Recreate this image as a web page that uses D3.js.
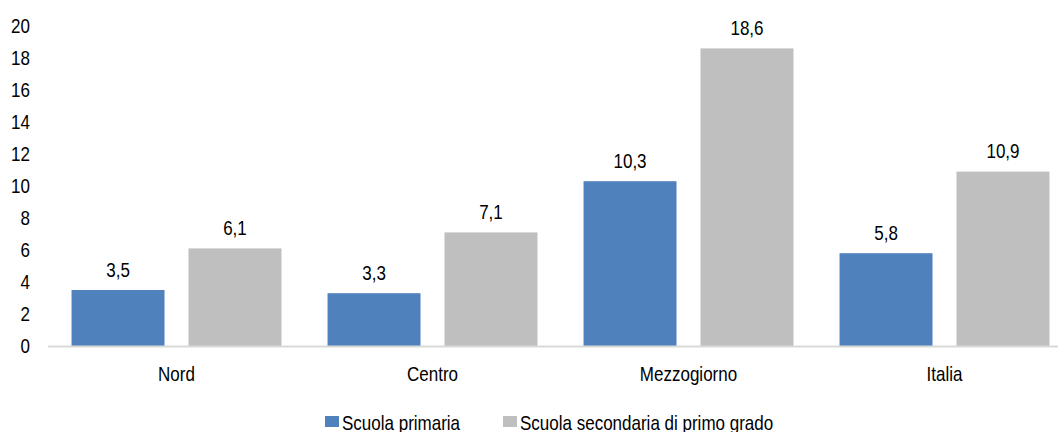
<!DOCTYPE html>
<html><head><meta charset="utf-8">
<script src="https://cdn.jsdelivr.net/npm/d3@7"></script>
<style>body{margin:0;background:#fff}svg{display:block}text{font-family:"Liberation Sans",Arial,sans-serif;fill:#000}</style>
</head><body><svg id="c" width="1058" height="432"></svg>
<script>
const categories = ["Nord","Centro","Mezzogiorno","Italia"];
const seriesNames = ["Scuola primaria","Scuola secondaria di primo grado"];
const primaria = [3.5,3.3,10.3,5.8];
const secondaria = [6.1,7.1,18.6,10.9];
const yTicks = [0,2,4,6,8,10,12,14,16,18,20];
const colors = ["#4F81BD","#BFBFBF"];

const FS = "21px", SX = 0.81;
const svg = d3.select("#c");
const fmt = v => String(v.toFixed(1)).replace(".", ",");
const y = d3.scaleLinear().domain([0,20]).range([346,26]);
const x0 = d3.scaleBand().domain(categories).range([48.5,1072.5]);
const x1 = d3.scaleBand().domain(seriesNames).range([0,x0.bandwidth()]).paddingInner(0.205).paddingOuter(0.197);

function narrowText(sel, x, yy, anchor, str){
  return sel.append("text").attr("transform",`translate(${x},${yy}) scale(${SX},1)`)
    .attr("text-anchor",anchor).style("font-size",FS).text(str);
}

// y axis labels
const yAxis = d3.axisLeft(y).tickValues(yTicks).tickSize(0).tickPadding(0).tickFormat(d=>d);
const gy = svg.append("g").attr("transform","translate(30,0)").call(yAxis);
gy.select(".domain").remove();
gy.selectAll("text").style("font-size",FS).attr("font-family",null).attr("transform",`scale(${SX},1)`);

const data = categories.map((c,i)=>({c, vals:[primaria[i],secondaria[i]]}));
const g = svg.append("g");
data.forEach(d=>{
  d.vals.forEach((v,j)=>{
    const xs = x0(d.c)+x1(seriesNames[j]);
    g.append("rect").attr("x",xs).attr("y",y(v)).attr("width",x1.bandwidth()).attr("height",y(0)-y(v)).attr("fill",colors[j]);
    narrowText(g, xs+x1.bandwidth()/2, y(v)-13.5, "middle", fmt(v));
  });
});

// x axis
const xAxis = d3.axisBottom(x0).tickSize(0).tickPadding(0);
const gx = svg.append("g").attr("transform","translate(0,346)").call(xAxis);
gx.select(".domain").remove();
gx.selectAll("text").attr("dy",null).attr("y",0).style("font-size",FS).attr("font-family",null).attr("transform",`translate(0,35) scale(${SX},1)`);
svg.append("line").attr("x1",48).attr("x2",1058).attr("y1",346.5).attr("y2",346.5).attr("stroke","#D9D9D9").attr("stroke-width",2);

// legend
const legX = [325,503];
seriesNames.forEach((s,i)=>{
  svg.append("rect").attr("x",legX[i]).attr("y",416).attr("width",14).attr("height",11).attr("fill",colors[i]);
  narrowText(svg, legX[i]+17, 429.5, "start", s);
});
</script></body></html>
